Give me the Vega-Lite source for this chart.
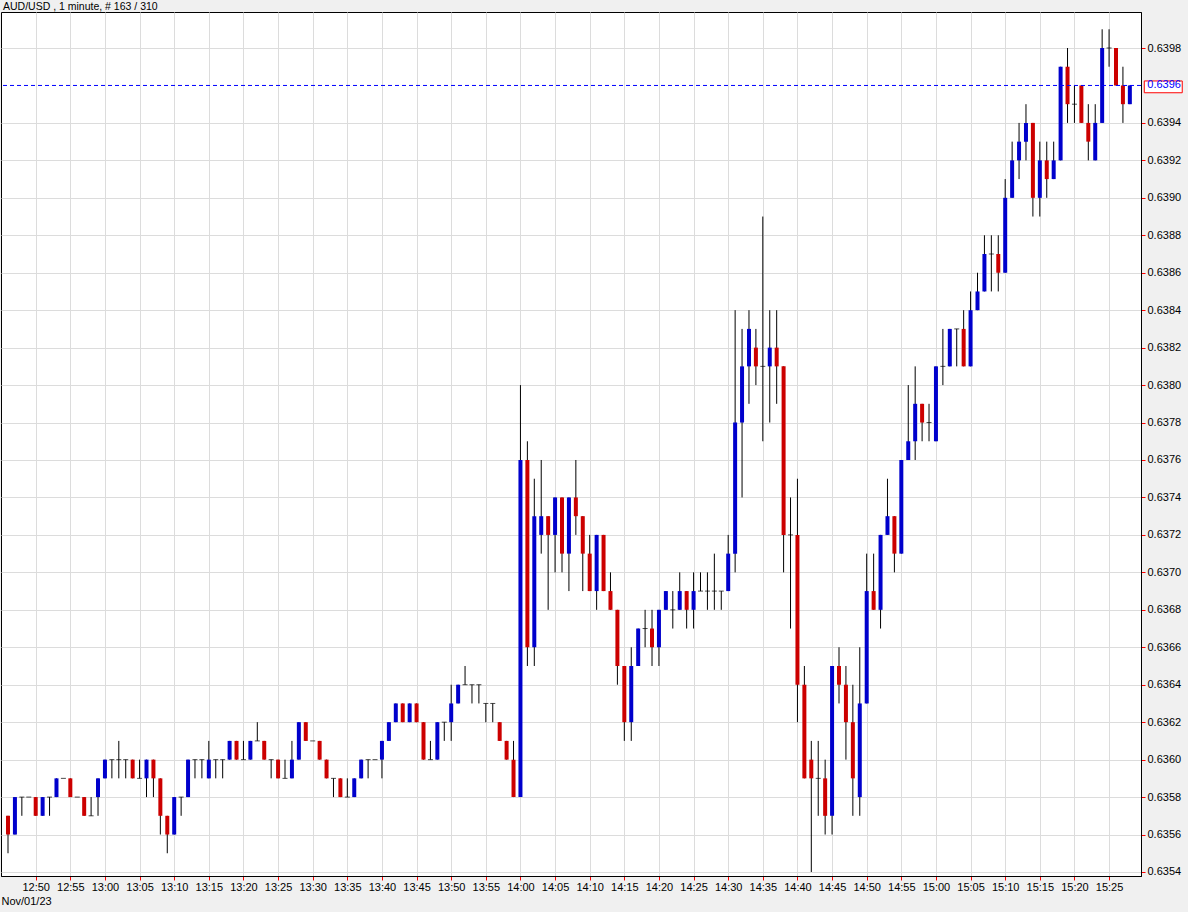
{
  "$schema": "https://vega.github.io/schema/vega-lite/v6.json",
  "width": 1140,
  "height": 864,
  "autosize": {"type": "none"},
  "padding": {"left": 1, "top": 12, "right": 47, "bottom": 36},
  "background": "#f0f0f0",
  "title": {"text": "AUD/USD , 1 minute, # 163 / 310", "anchor": "start", "frame": "group", "baseline": "bottom", "offset": 1, "dx": 2, "dy": 11, "fontSize": 10.5, "fontWeight": "normal", "font": "Liberation Sans", "color": "black"},
  "config": {
    "view": {"fill": "white", "stroke": "black", "strokeWidth": 1},
    "axis": {"labelFont": "Liberation Sans", "titleFont": "Liberation Sans"},
    "axisX": {"grid": true, "gridColor": "#dcdcdc", "gridWidth": 1, "tickColor": "#ff0000", "tickSize": 4, "domainColor": "black", "labelColor": "black", "labelFontSize": 11, "labelPadding": 1, "labelFlush": false, "labelOverlap": false, "titleAnchor": "start", "titleAlign": "left", "titleFontWeight": "normal", "titleFontSize": 11, "titleColor": "black", "titlePadding": 3}
  },
  "datasets": {
    "last": [{"price": 0.6396, "tl": "2023-11-01T15:30:05Z", "tr": "2023-11-01T15:35:34Z", "ptop": 0.639624, "pbot": 0.639561}]
  },
  "data": {"values": [
    {"t":"2023-11-01T12:46:00Z","open":0.6357,"high":0.6357,"low":0.6355,"close":0.6356},
    {"t":"2023-11-01T12:47:00Z","open":0.6356,"high":0.6358,"low":0.6356,"close":0.6358},
    {"t":"2023-11-01T12:48:00Z","open":0.6358,"high":0.6358,"low":0.6357,"close":0.6358},
    {"t":"2023-11-01T12:49:00Z","open":0.6358,"high":0.6358,"low":0.6358,"close":0.6358},
    {"t":"2023-11-01T12:50:00Z","open":0.6358,"high":0.6358,"low":0.6357,"close":0.6357},
    {"t":"2023-11-01T12:51:00Z","open":0.6357,"high":0.6358,"low":0.6357,"close":0.6358},
    {"t":"2023-11-01T12:52:00Z","open":0.6358,"high":0.6358,"low":0.6357,"close":0.6358},
    {"t":"2023-11-01T12:53:00Z","open":0.6358,"high":0.6359,"low":0.6358,"close":0.6359},
    {"t":"2023-11-01T12:54:00Z","open":0.6359,"high":0.6359,"low":0.6359,"close":0.6359},
    {"t":"2023-11-01T12:55:00Z","open":0.6359,"high":0.6359,"low":0.6358,"close":0.6358},
    {"t":"2023-11-01T12:56:00Z","open":0.6358,"high":0.6358,"low":0.6358,"close":0.6358},
    {"t":"2023-11-01T12:57:00Z","open":0.6358,"high":0.6358,"low":0.6357,"close":0.6357},
    {"t":"2023-11-01T12:58:00Z","open":0.6357,"high":0.6358,"low":0.6357,"close":0.6357},
    {"t":"2023-11-01T12:59:00Z","open":0.6358,"high":0.6359,"low":0.6357,"close":0.6359},
    {"t":"2023-11-01T13:00:00Z","open":0.6359,"high":0.6360,"low":0.6359,"close":0.6360},
    {"t":"2023-11-01T13:01:00Z","open":0.6360,"high":0.6360,"low":0.6359,"close":0.6360},
    {"t":"2023-11-01T13:02:00Z","open":0.6360,"high":0.6361,"low":0.6359,"close":0.6360},
    {"t":"2023-11-01T13:03:00Z","open":0.6360,"high":0.6360,"low":0.6359,"close":0.6360},
    {"t":"2023-11-01T13:04:00Z","open":0.6360,"high":0.6360,"low":0.6359,"close":0.6359},
    {"t":"2023-11-01T13:05:00Z","open":0.6359,"high":0.6360,"low":0.6359,"close":0.6359},
    {"t":"2023-11-01T13:06:00Z","open":0.6359,"high":0.6360,"low":0.6358,"close":0.6360},
    {"t":"2023-11-01T13:07:00Z","open":0.6360,"high":0.6360,"low":0.6358,"close":0.6359},
    {"t":"2023-11-01T13:08:00Z","open":0.6359,"high":0.6359,"low":0.6356,"close":0.6357},
    {"t":"2023-11-01T13:09:00Z","open":0.6357,"high":0.6357,"low":0.6355,"close":0.6356},
    {"t":"2023-11-01T13:10:00Z","open":0.6356,"high":0.6358,"low":0.6356,"close":0.6358},
    {"t":"2023-11-01T13:11:00Z","open":0.6358,"high":0.6358,"low":0.6357,"close":0.6358},
    {"t":"2023-11-01T13:12:00Z","open":0.6358,"high":0.6360,"low":0.6358,"close":0.6360},
    {"t":"2023-11-01T13:13:00Z","open":0.6360,"high":0.6360,"low":0.6359,"close":0.6360},
    {"t":"2023-11-01T13:14:00Z","open":0.6360,"high":0.6360,"low":0.6359,"close":0.6360},
    {"t":"2023-11-01T13:15:00Z","open":0.6359,"high":0.6361,"low":0.6359,"close":0.6360},
    {"t":"2023-11-01T13:16:00Z","open":0.6360,"high":0.6360,"low":0.6359,"close":0.6360},
    {"t":"2023-11-01T13:17:00Z","open":0.6360,"high":0.6360,"low":0.6359,"close":0.6360},
    {"t":"2023-11-01T13:18:00Z","open":0.6360,"high":0.6361,"low":0.6360,"close":0.6361},
    {"t":"2023-11-01T13:19:00Z","open":0.6361,"high":0.6361,"low":0.6360,"close":0.6360},
    {"t":"2023-11-01T13:20:00Z","open":0.6360,"high":0.6361,"low":0.6360,"close":0.6360},
    {"t":"2023-11-01T13:21:00Z","open":0.6360,"high":0.6361,"low":0.6360,"close":0.6361},
    {"t":"2023-11-01T13:22:00Z","open":0.6361,"high":0.6362,"low":0.6361,"close":0.6361},
    {"t":"2023-11-01T13:23:00Z","open":0.6361,"high":0.6361,"low":0.6360,"close":0.6360},
    {"t":"2023-11-01T13:24:00Z","open":0.6360,"high":0.6360,"low":0.6359,"close":0.6360},
    {"t":"2023-11-01T13:25:00Z","open":0.6360,"high":0.6360,"low":0.6359,"close":0.6359},
    {"t":"2023-11-01T13:26:00Z","open":0.6359,"high":0.6360,"low":0.6359,"close":0.6359},
    {"t":"2023-11-01T13:27:00Z","open":0.6359,"high":0.6361,"low":0.6359,"close":0.6360},
    {"t":"2023-11-01T13:28:00Z","open":0.6360,"high":0.6362,"low":0.6360,"close":0.6362},
    {"t":"2023-11-01T13:29:00Z","open":0.6362,"high":0.6362,"low":0.6361,"close":0.6361},
    {"t":"2023-11-01T13:30:00Z","open":0.6361,"high":0.6361,"low":0.6361,"close":0.6361},
    {"t":"2023-11-01T13:31:00Z","open":0.6361,"high":0.6361,"low":0.6360,"close":0.6360},
    {"t":"2023-11-01T13:32:00Z","open":0.6360,"high":0.6360,"low":0.6359,"close":0.6359},
    {"t":"2023-11-01T13:33:00Z","open":0.6359,"high":0.6359,"low":0.6358,"close":0.6359},
    {"t":"2023-11-01T13:34:00Z","open":0.6359,"high":0.6359,"low":0.6358,"close":0.6358},
    {"t":"2023-11-01T13:35:00Z","open":0.6358,"high":0.6359,"low":0.6358,"close":0.6358},
    {"t":"2023-11-01T13:36:00Z","open":0.6358,"high":0.6359,"low":0.6358,"close":0.6359},
    {"t":"2023-11-01T13:37:00Z","open":0.6359,"high":0.6360,"low":0.6359,"close":0.6360},
    {"t":"2023-11-01T13:38:00Z","open":0.6360,"high":0.6360,"low":0.6359,"close":0.6360},
    {"t":"2023-11-01T13:39:00Z","open":0.6360,"high":0.6360,"low":0.6360,"close":0.6360},
    {"t":"2023-11-01T13:40:00Z","open":0.6360,"high":0.6361,"low":0.6359,"close":0.6361},
    {"t":"2023-11-01T13:41:00Z","open":0.6361,"high":0.6362,"low":0.6361,"close":0.6362},
    {"t":"2023-11-01T13:42:00Z","open":0.6362,"high":0.6363,"low":0.6362,"close":0.6363},
    {"t":"2023-11-01T13:43:00Z","open":0.6363,"high":0.6363,"low":0.6362,"close":0.6362},
    {"t":"2023-11-01T13:44:00Z","open":0.6362,"high":0.6363,"low":0.6362,"close":0.6363},
    {"t":"2023-11-01T13:45:00Z","open":0.6363,"high":0.6363,"low":0.6362,"close":0.6362},
    {"t":"2023-11-01T13:46:00Z","open":0.6362,"high":0.6362,"low":0.6360,"close":0.6360},
    {"t":"2023-11-01T13:47:00Z","open":0.6360,"high":0.6361,"low":0.6360,"close":0.6360},
    {"t":"2023-11-01T13:48:00Z","open":0.6360,"high":0.6362,"low":0.6360,"close":0.6362},
    {"t":"2023-11-01T13:49:00Z","open":0.6362,"high":0.6362,"low":0.6361,"close":0.6362},
    {"t":"2023-11-01T13:50:00Z","open":0.6362,"high":0.6364,"low":0.6361,"close":0.6363},
    {"t":"2023-11-01T13:51:00Z","open":0.6363,"high":0.6364,"low":0.6363,"close":0.6364},
    {"t":"2023-11-01T13:52:00Z","open":0.6364,"high":0.6365,"low":0.6364,"close":0.6364},
    {"t":"2023-11-01T13:53:00Z","open":0.6364,"high":0.6364,"low":0.6363,"close":0.6364},
    {"t":"2023-11-01T13:54:00Z","open":0.6364,"high":0.6364,"low":0.6363,"close":0.6364},
    {"t":"2023-11-01T13:55:00Z","open":0.6363,"high":0.6363,"low":0.6362,"close":0.6363},
    {"t":"2023-11-01T13:56:00Z","open":0.6363,"high":0.6363,"low":0.6362,"close":0.6363},
    {"t":"2023-11-01T13:57:00Z","open":0.6362,"high":0.6362,"low":0.6361,"close":0.6361},
    {"t":"2023-11-01T13:58:00Z","open":0.6361,"high":0.6361,"low":0.6360,"close":0.6360},
    {"t":"2023-11-01T13:59:00Z","open":0.6360,"high":0.6361,"low":0.6358,"close":0.6358},
    {"t":"2023-11-01T14:00:00Z","open":0.6358,"high":0.6380,"low":0.6358,"close":0.6376},
    {"t":"2023-11-01T14:01:00Z","open":0.6376,"high":0.6377,"low":0.6365,"close":0.6366},
    {"t":"2023-11-01T14:02:00Z","open":0.6366,"high":0.6375,"low":0.6365,"close":0.6373},
    {"t":"2023-11-01T14:03:00Z","open":0.6372,"high":0.6376,"low":0.6371,"close":0.6373},
    {"t":"2023-11-01T14:04:00Z","open":0.6373,"high":0.6373,"low":0.6368,"close":0.6372},
    {"t":"2023-11-01T14:05:00Z","open":0.6372,"high":0.6374,"low":0.6370,"close":0.6374},
    {"t":"2023-11-01T14:06:00Z","open":0.6374,"high":0.6374,"low":0.6370,"close":0.6371},
    {"t":"2023-11-01T14:07:00Z","open":0.6371,"high":0.6374,"low":0.6369,"close":0.6374},
    {"t":"2023-11-01T14:08:00Z","open":0.6374,"high":0.6376,"low":0.6372,"close":0.6373},
    {"t":"2023-11-01T14:09:00Z","open":0.6373,"high":0.6373,"low":0.6369,"close":0.6371},
    {"t":"2023-11-01T14:10:00Z","open":0.6371,"high":0.6372,"low":0.6369,"close":0.6369},
    {"t":"2023-11-01T14:11:00Z","open":0.6369,"high":0.6372,"low":0.6368,"close":0.6372},
    {"t":"2023-11-01T14:12:00Z","open":0.6372,"high":0.6372,"low":0.6369,"close":0.6369},
    {"t":"2023-11-01T14:13:00Z","open":0.6369,"high":0.6370,"low":0.6368,"close":0.6368},
    {"t":"2023-11-01T14:14:00Z","open":0.6368,"high":0.6368,"low":0.6364,"close":0.6365},
    {"t":"2023-11-01T14:15:00Z","open":0.6365,"high":0.6365,"low":0.6361,"close":0.6362},
    {"t":"2023-11-01T14:16:00Z","open":0.6362,"high":0.6366,"low":0.6361,"close":0.6365},
    {"t":"2023-11-01T14:17:00Z","open":0.6365,"high":0.6367,"low":0.6365,"close":0.6367},
    {"t":"2023-11-01T14:18:00Z","open":0.6367,"high":0.6368,"low":0.6366,"close":0.6367},
    {"t":"2023-11-01T14:19:00Z","open":0.6367,"high":0.6368,"low":0.6365,"close":0.6366},
    {"t":"2023-11-01T14:20:00Z","open":0.6366,"high":0.6368,"low":0.6365,"close":0.6368},
    {"t":"2023-11-01T14:21:00Z","open":0.6368,"high":0.6369,"low":0.6368,"close":0.6369},
    {"t":"2023-11-01T14:22:00Z","open":0.6368,"high":0.6369,"low":0.6367,"close":0.6368},
    {"t":"2023-11-01T14:23:00Z","open":0.6368,"high":0.6370,"low":0.6368,"close":0.6369},
    {"t":"2023-11-01T14:24:00Z","open":0.6369,"high":0.6369,"low":0.6367,"close":0.6368},
    {"t":"2023-11-01T14:25:00Z","open":0.6368,"high":0.6370,"low":0.6367,"close":0.6369},
    {"t":"2023-11-01T14:26:00Z","open":0.6369,"high":0.6370,"low":0.6369,"close":0.6369},
    {"t":"2023-11-01T14:27:00Z","open":0.6369,"high":0.6370,"low":0.6368,"close":0.6369},
    {"t":"2023-11-01T14:28:00Z","open":0.6369,"high":0.6371,"low":0.6368,"close":0.6369},
    {"t":"2023-11-01T14:29:00Z","open":0.6369,"high":0.6369,"low":0.6368,"close":0.6369},
    {"t":"2023-11-01T14:30:00Z","open":0.6369,"high":0.6372,"low":0.6369,"close":0.6371},
    {"t":"2023-11-01T14:31:00Z","open":0.6371,"high":0.6384,"low":0.6370,"close":0.6378},
    {"t":"2023-11-01T14:32:00Z","open":0.6378,"high":0.6383,"low":0.6374,"close":0.6381},
    {"t":"2023-11-01T14:33:00Z","open":0.6381,"high":0.6384,"low":0.6379,"close":0.6383},
    {"t":"2023-11-01T14:34:00Z","open":0.6382,"high":0.6383,"low":0.6380,"close":0.6381},
    {"t":"2023-11-01T14:35:00Z","open":0.6381,"high":0.6389,"low":0.6377,"close":0.6381},
    {"t":"2023-11-01T14:36:00Z","open":0.6381,"high":0.6384,"low":0.6378,"close":0.6382},
    {"t":"2023-11-01T14:37:00Z","open":0.6382,"high":0.6384,"low":0.6379,"close":0.6381},
    {"t":"2023-11-01T14:38:00Z","open":0.6381,"high":0.6381,"low":0.6370,"close":0.6372},
    {"t":"2023-11-01T14:39:00Z","open":0.6372,"high":0.6374,"low":0.6367,"close":0.6372},
    {"t":"2023-11-01T14:40:00Z","open":0.6372,"high":0.6375,"low":0.6362,"close":0.6364},
    {"t":"2023-11-01T14:41:00Z","open":0.6364,"high":0.6365,"low":0.6359,"close":0.6359},
    {"t":"2023-11-01T14:42:00Z","open":0.6360,"high":0.6361,"low":0.6354,"close":0.6359},
    {"t":"2023-11-01T14:43:00Z","open":0.6359,"high":0.6361,"low":0.6357,"close":0.6359},
    {"t":"2023-11-01T14:44:00Z","open":0.6359,"high":0.6360,"low":0.6356,"close":0.6357},
    {"t":"2023-11-01T14:45:00Z","open":0.6357,"high":0.6365,"low":0.6356,"close":0.6365},
    {"t":"2023-11-01T14:46:00Z","open":0.6365,"high":0.6366,"low":0.6363,"close":0.6364},
    {"t":"2023-11-01T14:47:00Z","open":0.6364,"high":0.6365,"low":0.6360,"close":0.6362},
    {"t":"2023-11-01T14:48:00Z","open":0.6362,"high":0.6364,"low":0.6357,"close":0.6359},
    {"t":"2023-11-01T14:49:00Z","open":0.6358,"high":0.6366,"low":0.6357,"close":0.6363},
    {"t":"2023-11-01T14:50:00Z","open":0.6363,"high":0.6371,"low":0.6363,"close":0.6369},
    {"t":"2023-11-01T14:51:00Z","open":0.6369,"high":0.6371,"low":0.6368,"close":0.6368},
    {"t":"2023-11-01T14:52:00Z","open":0.6368,"high":0.6372,"low":0.6367,"close":0.6372},
    {"t":"2023-11-01T14:53:00Z","open":0.6372,"high":0.6375,"low":0.6372,"close":0.6373},
    {"t":"2023-11-01T14:54:00Z","open":0.6373,"high":0.6373,"low":0.6370,"close":0.6371},
    {"t":"2023-11-01T14:55:00Z","open":0.6371,"high":0.6376,"low":0.6371,"close":0.6376},
    {"t":"2023-11-01T14:56:00Z","open":0.6376,"high":0.6380,"low":0.6376,"close":0.6377},
    {"t":"2023-11-01T14:57:00Z","open":0.6377,"high":0.6381,"low":0.6376,"close":0.6379},
    {"t":"2023-11-01T14:58:00Z","open":0.6379,"high":0.6379,"low":0.6377,"close":0.6378},
    {"t":"2023-11-01T14:59:00Z","open":0.6378,"high":0.6379,"low":0.6377,"close":0.6378},
    {"t":"2023-11-01T15:00:00Z","open":0.6377,"high":0.6381,"low":0.6377,"close":0.6381},
    {"t":"2023-11-01T15:01:00Z","open":0.6381,"high":0.6383,"low":0.6380,"close":0.6381},
    {"t":"2023-11-01T15:02:00Z","open":0.6381,"high":0.6383,"low":0.6381,"close":0.6383},
    {"t":"2023-11-01T15:03:00Z","open":0.6383,"high":0.6383,"low":0.6381,"close":0.6383},
    {"t":"2023-11-01T15:04:00Z","open":0.6383,"high":0.6384,"low":0.6381,"close":0.6381},
    {"t":"2023-11-01T15:05:00Z","open":0.6381,"high":0.6385,"low":0.6381,"close":0.6384},
    {"t":"2023-11-01T15:06:00Z","open":0.6384,"high":0.6386,"low":0.6384,"close":0.6385},
    {"t":"2023-11-01T15:07:00Z","open":0.6385,"high":0.6388,"low":0.6385,"close":0.6387},
    {"t":"2023-11-01T15:08:00Z","open":0.6387,"high":0.6388,"low":0.6385,"close":0.6387},
    {"t":"2023-11-01T15:09:00Z","open":0.6387,"high":0.6388,"low":0.6385,"close":0.6386},
    {"t":"2023-11-01T15:10:00Z","open":0.6386,"high":0.6391,"low":0.6386,"close":0.6390},
    {"t":"2023-11-01T15:11:00Z","open":0.6390,"high":0.6393,"low":0.6390,"close":0.6392},
    {"t":"2023-11-01T15:12:00Z","open":0.6392,"high":0.6394,"low":0.6391,"close":0.6393},
    {"t":"2023-11-01T15:13:00Z","open":0.6393,"high":0.6395,"low":0.6392,"close":0.6394},
    {"t":"2023-11-01T15:14:00Z","open":0.6394,"high":0.6394,"low":0.6389,"close":0.6390},
    {"t":"2023-11-01T15:15:00Z","open":0.6390,"high":0.6393,"low":0.6389,"close":0.6392},
    {"t":"2023-11-01T15:16:00Z","open":0.6392,"high":0.6393,"low":0.6390,"close":0.6391},
    {"t":"2023-11-01T15:17:00Z","open":0.6391,"high":0.6393,"low":0.6391,"close":0.6392},
    {"t":"2023-11-01T15:18:00Z","open":0.6392,"high":0.6397,"low":0.6392,"close":0.6397},
    {"t":"2023-11-01T15:19:00Z","open":0.6397,"high":0.6398,"low":0.6394,"close":0.6395},
    {"t":"2023-11-01T15:20:00Z","open":0.6395,"high":0.6396,"low":0.6394,"close":0.6395},
    {"t":"2023-11-01T15:21:00Z","open":0.6396,"high":0.6396,"low":0.6394,"close":0.6394},
    {"t":"2023-11-01T15:22:00Z","open":0.6394,"high":0.6395,"low":0.6392,"close":0.6393},
    {"t":"2023-11-01T15:23:00Z","open":0.6392,"high":0.6395,"low":0.6392,"close":0.6394},
    {"t":"2023-11-01T15:24:00Z","open":0.6394,"high":0.6399,"low":0.6394,"close":0.6398},
    {"t":"2023-11-01T15:25:00Z","open":0.6398,"high":0.6399,"low":0.6397,"close":0.6398},
    {"t":"2023-11-01T15:26:00Z","open":0.6398,"high":0.6398,"low":0.6396,"close":0.6396},
    {"t":"2023-11-01T15:27:00Z","open":0.6396,"high":0.6397,"low":0.6394,"close":0.6395},
    {"t":"2023-11-01T15:28:00Z","open":0.6395,"high":0.6396,"low":0.6395,"close":0.6396}
  ]},
  "resolve": {"scale": {"x": "shared", "y": "shared"}},
  "layer": [
    {
      "mark": {"type": "rule", "stroke": "black", "strokeWidth": 1},
      "encoding": {
        "x": {
          "field": "t", "type": "temporal",
          "scale": {"type": "utc", "domain": [1698842699340, 1698852576600], "nice": false, "padding": 0},
          "axis": {"title": "Nov/01/23", "labelExpr": "utcFormat(datum.value, '%H:%M')", "values": [1698843000000,1698843300000,1698843600000,1698843900000,1698844200000,1698844500000,1698844800000,1698845100000,1698845400000,1698845700000,1698846000000,1698846300000,1698846600000,1698846900000,1698847200000,1698847500000,1698847800000,1698848100000,1698848400000,1698848700000,1698849000000,1698849300000,1698849600000,1698849900000,1698850200000,1698850500000,1698850800000,1698851100000,1698851400000,1698851700000,1698852000000,1698852300000]}
        },
        "y": {
          "field": "low", "type": "quantitative",
          "scale": {"domain": [0.6353786, 0.63999224], "nice": false, "zero": false, "padding": 0},
          "axis": {
            "orient": "right",
            "values": [0.6354,0.6356,0.6358,0.636,0.6362,0.6364,0.6366,0.6368,0.637,0.6372,0.6374,0.6376,0.6378,0.638,0.6382,0.6384,0.6386,0.6388,0.639,0.6392,0.6394,0.6398],
            "format": ".4f",
            "grid": true, "gridColor": "#dcdcdc", "gridWidth": 1,
            "tickColor": "#ff0000", "tickSize": 4, "domainColor": "black",
            "labelColor": "black", "labelFontSize": 11, "labelPadding": 2,
            "title": null
          }
        },
        "y2": {"field": "high"}
      }
    },
    {
      "mark": {"type": "bar", "width": 4},
      "encoding": {
        "x": {"field": "t", "type": "temporal", "axis": {"title": "Nov/01/23", "labelExpr": "utcFormat(datum.value, '%H:%M')", "values": [1698843000000,1698843300000,1698843600000,1698843900000,1698844200000,1698844500000,1698844800000,1698845100000,1698845400000,1698845700000,1698846000000,1698846300000,1698846600000,1698846900000,1698847200000,1698847500000,1698847800000,1698848100000,1698848400000,1698848700000,1698849000000,1698849300000,1698849600000,1698849900000,1698850200000,1698850500000,1698850800000,1698851100000,1698851400000,1698851700000,1698852000000,1698852300000]}},
        "y": {"field": "open", "type": "quantitative"},
        "y2": {"field": "close"},
        "color": {"condition": {"test": "datum.close > datum.open", "value": "#0000cc"}, "value": "#cc0000"}
      }
    },
    {
      "transform": [{"filter": "datum.open == datum.close"}],
      "mark": {"type": "tick", "orient": "horizontal", "size": 5, "thickness": 1, "color": "black"},
      "encoding": {
        "x": {"field": "t", "type": "temporal", "axis": {"title": "Nov/01/23", "labelExpr": "utcFormat(datum.value, '%H:%M')", "values": [1698843000000,1698843300000,1698843600000,1698843900000,1698844200000,1698844500000,1698844800000,1698845100000,1698845400000,1698845700000,1698846000000,1698846300000,1698846600000,1698846900000,1698847200000,1698847500000,1698847800000,1698848100000,1698848400000,1698848700000,1698849000000,1698849300000,1698849600000,1698849900000,1698850200000,1698850500000,1698850800000,1698851100000,1698851400000,1698851700000,1698852000000,1698852300000]}},
        "y": {"field": "open", "type": "quantitative"}
      }
    },
    {
      "data": {"name": "last"},
      "mark": {"type": "rule", "stroke": "#0000ff", "strokeWidth": 1, "strokeDash": [4, 3]},
      "encoding": {"y": {"field": "price", "type": "quantitative"}}
    },
    {
      "data": {"name": "last"},
      "mark": {"type": "rect", "fill": "white", "stroke": "#ff0000", "strokeWidth": 1},
      "encoding": {
        "x": {"field": "tl", "type": "temporal", "axis": {"title": "Nov/01/23", "labelExpr": "utcFormat(datum.value, '%H:%M')", "values": [1698843000000,1698843300000,1698843600000,1698843900000,1698844200000,1698844500000,1698844800000,1698845100000,1698845400000,1698845700000,1698846000000,1698846300000,1698846600000,1698846900000,1698847200000,1698847500000,1698847800000,1698848100000,1698848400000,1698848700000,1698849000000,1698849300000,1698849600000,1698849900000,1698850200000,1698850500000,1698850800000,1698851100000,1698851400000,1698851700000,1698852000000,1698852300000]}},
        "x2": {"field": "tr"},
        "y": {"field": "ptop", "type": "quantitative"},
        "y2": {"field": "pbot"}
      }
    },
    {
      "data": {"name": "last"},
      "mark": {"type": "text", "align": "left", "baseline": "middle", "dx": 3, "fontSize": 11, "font": "Liberation Sans", "fill": "#0000ff"},
      "encoding": {
        "x": {"field": "tl", "type": "temporal", "axis": {"title": "Nov/01/23", "labelExpr": "utcFormat(datum.value, '%H:%M')", "values": [1698843000000,1698843300000,1698843600000,1698843900000,1698844200000,1698844500000,1698844800000,1698845100000,1698845400000,1698845700000,1698846000000,1698846300000,1698846600000,1698846900000,1698847200000,1698847500000,1698847800000,1698848100000,1698848400000,1698848700000,1698849000000,1698849300000,1698849600000,1698849900000,1698850200000,1698850500000,1698850800000,1698851100000,1698851400000,1698851700000,1698852000000,1698852300000]}},
        "y": {"field": "price", "type": "quantitative"},
        "text": {"field": "price", "type": "quantitative", "format": ".4f"}
      }
    }
  ]
}
